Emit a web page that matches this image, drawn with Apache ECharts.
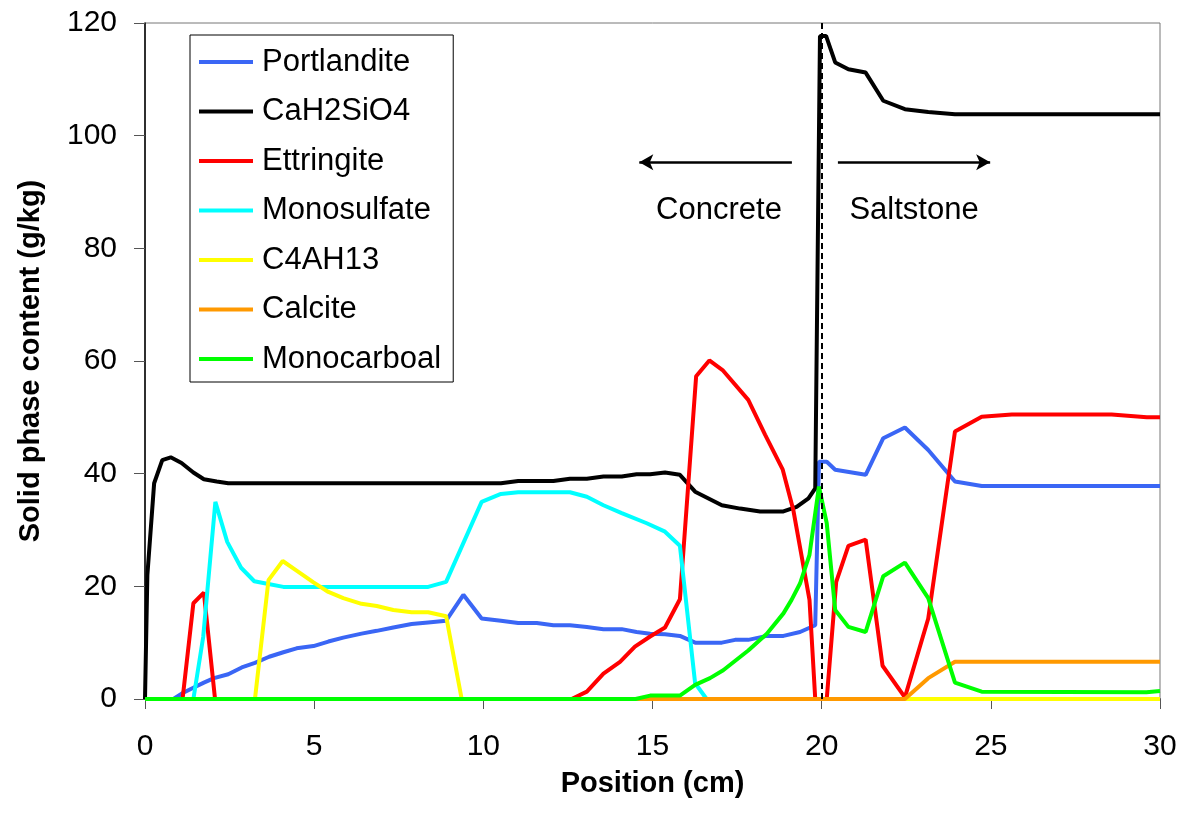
<!DOCTYPE html>
<html>
<head>
<meta charset="utf-8">
<script src="https://cdn.jsdelivr.net/npm/echarts@6/dist/echarts.min.js"></script>
<style>
  html, body { margin: 0; padding: 0; background: #fff; }
  #main { width: 1180px; height: 817px; }
</style>
</head>
<body>
<div id="main"></div>
<script>
// [position (cm), content (g/kg)]
const portlandite = [[0,0],[0.84,0],[1.13,1.1],[1.43,2.0],[1.74,2.9],[2.04,3.7],[2.46,4.4],[2.86,5.6],[3.25,6.4],[3.67,7.5],[4.09,8.3],[4.48,9.0],[4.98,9.4],[5.42,10.2],[5.86,10.9],[6.40,11.6],[6.85,12.1],[7.34,12.7],[7.88,13.3],[8.37,13.6],[8.90,13.9],[9.41,18.5],[9.95,14.3],[10.52,13.9],[11.03,13.5],[11.58,13.5],[12.07,13.1],[12.56,13.1],[13.06,12.8],[13.55,12.4],[14.09,12.4],[14.53,11.9],[14.93,11.6],[15.37,11.5],[15.81,11.2],[16.26,10.0],[17.05,10.0],[17.44,10.5],[17.83,10.5],[18.38,11.2],[18.87,11.2],[19.36,11.9],[19.81,13.1],[19.92,42.1],[20.15,42.1],[20.40,40.7],[21.30,39.8],[21.82,46.3],[22.46,48.2],[23.15,44.2],[23.94,38.6],[24.73,37.8],[30,37.8]];
const cah2sio4 = [[0,0],[0.07,22],[0.27,38.3],[0.51,42.4],[0.76,42.9],[1.08,41.9],[1.43,40.2],[1.74,39.0],[2.12,38.6],[2.46,38.3],[10.52,38.3],[11.03,38.7],[12.07,38.7],[12.56,39.1],[13.06,39.1],[13.55,39.5],[14.09,39.5],[14.53,39.9],[14.93,39.9],[15.37,40.2],[15.81,39.8],[16.26,36.8],[17.05,34.4],[17.59,33.8],[18.18,33.3],[18.87,33.3],[19.26,34.1],[19.61,35.6],[19.81,37.4],[19.95,117.7],[20.13,117.7],[20.40,113.0],[20.79,111.8],[21.30,111.2],[21.82,106.2],[22.46,104.7],[23.15,104.2],[23.94,103.8],[30,103.8]];
const ettringite = [[0,0],[1.11,0],[1.43,17],[1.74,18.9],[2.07,0],[12.61,0],[13.06,1.3],[13.55,4.5],[14.04,6.6],[14.48,9.3],[14.93,11.1],[15.37,12.7],[15.81,17.7],[16.29,57.3],[16.68,60.1],[17.07,58.4],[17.83,53.1],[18.33,46.9],[18.85,40.7],[19.16,33.6],[19.64,17.6],[19.81,0],[20.15,0],[20.43,20.8],[20.79,27.2],[21.30,28.3],[21.80,5.9],[22.46,0.3],[23.15,14.3],[23.94,47.5],[24.73,50.1],[25.62,50.5],[28.57,50.5],[29.61,50.0],[30,50.0]];
const monosulfate = [[0,0],[1.43,0],[1.72,11],[2.08,35.0],[2.43,27.9],[2.84,23.3],[3.23,20.9],[3.65,20.4],[4.09,19.9],[8.37,19.9],[8.90,20.8],[9.95,35.0],[10.52,36.4],[11.03,36.7],[12.56,36.7],[13.06,35.9],[13.55,34.4],[14.09,33.0],[14.83,31.2],[15.37,29.7],[15.81,27.2],[16.26,2.8],[16.6,0],[30,0]];
const c4ah13 = [[0,0],[3.25,0],[3.65,21.1],[4.07,24.5],[4.48,22.8],[4.98,20.7],[5.42,19.0],[5.86,17.9],[6.40,16.9],[6.85,16.5],[7.34,15.8],[7.88,15.4],[8.37,15.4],[8.90,14.7],[9.36,0],[30,0]];
const calcite = [[0,0],[22.46,0],[23.15,3.7],[23.94,6.6],[30,6.6]];
const monocarboal = [[0,0],[14.5,0],[14.93,0.6],[15.81,0.6],[16.26,2.5],[16.70,3.7],[17.09,5.1],[17.83,8.6],[18.38,11.6],[18.87,15.2],[19.11,17.6],[19.36,20.5],[19.64,25.6],[19.92,37.7],[20.15,31.2],[20.40,15.8],[20.79,12.8],[21.30,11.9],[21.82,21.8],[22.46,24.2],[23.15,17.9],[23.94,2.9],[24.73,1.3],[29.6,1.2],[30,1.4]];

const names = ['Portlandite', 'CaH2SiO4', 'Ettringite', 'Monosulfate', 'C4AH13', 'Calcite', 'Monocarboal'];
const colors = ['#3a66f5', '#000000', '#ff0000', '#00ffff', '#ffff00', '#ff9900', '#00ff00'];
const seriesData = [portlandite, cah2sio4, ettringite, monosulfate, c4ah13, calcite, monocarboal];

const boundary = 20;      // concrete / saltstone interface
const arrowY = 95.3;
const leftArrow = [19.12, 14.61];
const rightArrow = [20.48, 24.98];
const labelY = 86.8;

const font = "'Liberation Sans', Arial, sans-serif";
const chart = echarts.init(document.getElementById('main'));

const series = names.map((n, i) => ({
  name: n,
  type: 'line',
  data: seriesData[i],
  symbol: 'none',
  color: colors[i],
  lineStyle: { width: 4, color: colors[i] },
  animation: false
}));

// dashed interface line and the two arrows
series[6].markLine = {
  silent: true,
  animation: false,
  label: { show: false },
  data: [
    [{ coord: [boundary, 0], symbol: 'none', lineStyle: { type: [6, 4], width: 2, color: '#000' } },
     { coord: [boundary, 120], symbol: 'none' }],
    [{ coord: [leftArrow[0], arrowY], symbol: 'none', lineStyle: { type: 'solid', width: 2.5, color: '#000' } },
     { coord: [leftArrow[1], arrowY], symbol: 'arrow', symbolSize: [12, 14] }],
    [{ coord: [rightArrow[0], arrowY], symbol: 'none', lineStyle: { type: 'solid', width: 2.5, color: '#000' } },
     { coord: [rightArrow[1], arrowY], symbol: 'arrow', symbolSize: [12, 14] }]
  ]
};

const option = {
  backgroundColor: '#fff',
  animation: false,
  grid: { left: 145, top: 23, width: 1015, height: 676, show: true, borderColor: '#777', borderWidth: 1 },
  legend: {
    data: names,
    orient: 'vertical',
    left: 190,
    top: 35,
    icon: 'rect',
    itemWidth: 54,
    itemHeight: 4,
    itemGap: 17.5,
    padding: [11, 12, 7, 9],
    borderColor: '#000',
    borderWidth: 1,
    backgroundColor: '#fff',
    selectedMode: false,
    textStyle: { fontFamily: font, fontSize: 31, color: '#000', lineHeight: 32, padding: [0, 0, 0, 4] }
  },
  xAxis: {
    type: 'value',
    min: 0, max: 30, interval: 5,
    name: 'Position (cm)',
    nameLocation: 'middle',
    nameGap: 70,
    nameTextStyle: { fontFamily: font, fontSize: 29, fontWeight: 'bold', color: '#000' },
    axisLine: { lineStyle: { color: '#000', width: 1.5 } },
    axisTick: { length: 10, lineStyle: { color: '#555' } },
    axisLabel: { fontFamily: font, fontSize: 30, color: '#000', margin: 33 },
    splitLine: { show: false }
  },
  yAxis: {
    type: 'value',
    min: 0, max: 120, interval: 20,
    name: 'Solid phase content (g/kg)',
    nameLocation: 'middle',
    nameGap: 100,
    nameTextStyle: { fontFamily: font, fontSize: 29, fontWeight: 'bold', color: '#000' },
    axisLine: { lineStyle: { color: '#000', width: 1.5 } },
    axisTick: { length: 11, lineStyle: { color: '#555' } },
    axisLabel: { fontFamily: font, fontSize: 30, color: '#000', margin: 28 },
    splitLine: { show: false }
  },
  series: series
};
chart.setOption(option);

const pLeft = chart.convertToPixel({ gridIndex: 0 }, [(leftArrow[0] + leftArrow[1]) / 2 + 0.1, labelY]);
const pRight = chart.convertToPixel({ gridIndex: 0 }, [(rightArrow[0] + rightArrow[1]) / 2, labelY]);
chart.setOption({
  graphic: [
    { type: 'text', x: pLeft[0], y: pLeft[1], z: 100,
      style: { text: 'Concrete', font: '31px ' + font, fill: '#000', align: 'center', verticalAlign: 'middle' } },
    { type: 'text', x: pRight[0], y: pRight[1], z: 100,
      style: { text: 'Saltstone', font: '31px ' + font, fill: '#000', align: 'center', verticalAlign: 'middle' } }
  ]
});
</script>
</body>
</html>
